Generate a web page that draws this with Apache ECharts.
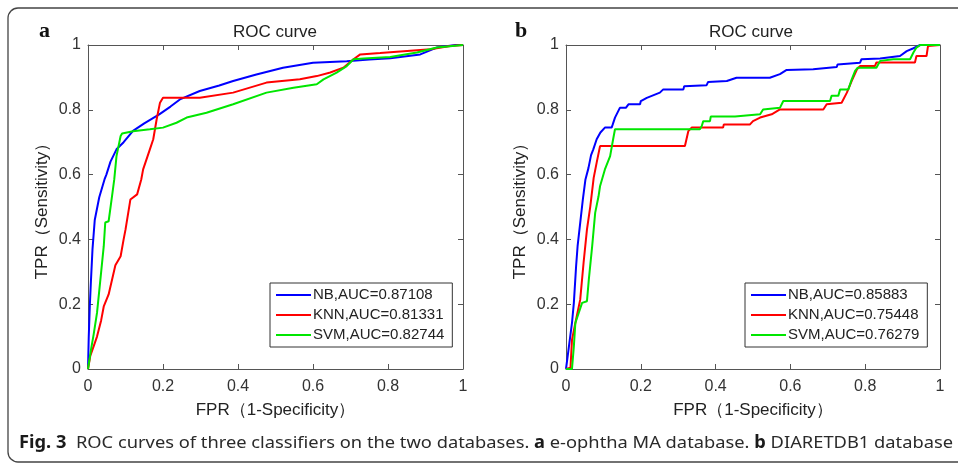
<!DOCTYPE html>
<html><head><meta charset="utf-8">
<script src="https://cdn.jsdelivr.net/npm/echarts@6/dist/echarts.min.js"></script>
<style>html,body{margin:0;padding:0;background:#fff;}#c{width:958px;height:463px;}</style>
</head><body><div id="c"></div>
<script>
// ---- data (FPR, TPR) ----
const tickLabels = ['0','0.2','0.4','0.6','0.8','1'];
const seriesNamesA = ['NB,AUC=0.87108','KNN,AUC=0.81331','SVM,AUC=0.82744'];
const seriesNamesB = ['NB,AUC=0.85883','KNN,AUC=0.75448','SVM,AUC=0.76279'];
const panelLabels = ['a','b'];
const panelTitle = 'ROC curve';
const xName = 'FPR（1-Specificity）';
const yName = 'TPR（Sensitivity）';

const nbA = [[0,0],[0.002,0.1],[0.005,0.2],[0.008,0.276],[0.012,0.37],[0.018,0.46],[0.03,0.53],[0.044,0.585],[0.049,0.6],[0.06,0.64],[0.076,0.678],[0.095,0.7],[0.12,0.735],[0.15,0.758],[0.19,0.786],[0.22,0.81],[0.245,0.832],[0.298,0.858],[0.35,0.875],[0.387,0.889],[0.449,0.909],[0.52,0.93],[0.6,0.945],[0.69,0.95],[0.75,0.955],[0.806,0.959],[0.886,0.971],[0.93,0.992],[0.98,1],[1,1]];
const knnA = [[0,0],[0.006,0.04],[0.015,0.07],[0.024,0.1],[0.035,0.15],[0.042,0.193],[0.055,0.23],[0.065,0.28],[0.073,0.32],[0.087,0.348],[0.095,0.4],[0.1,0.43],[0.113,0.523],[0.131,0.539],[0.142,0.585],[0.147,0.616],[0.165,0.678],[0.174,0.709],[0.183,0.77],[0.192,0.822],[0.2,0.837],[0.298,0.837],[0.387,0.853],[0.476,0.884],[0.565,0.894],[0.61,0.904],[0.646,0.915],[0.681,0.93],[0.708,0.956],[0.726,0.971],[0.779,0.975],[0.842,0.981],[0.913,0.987],[0.966,0.997],[1,1]];
const svmA = [[0,0],[0.008,0.06],[0.015,0.106],[0.024,0.173],[0.033,0.276],[0.042,0.379],[0.046,0.452],[0.055,0.456],[0.064,0.533],[0.07,0.585],[0.076,0.657],[0.087,0.719],[0.091,0.727],[0.12,0.734],[0.165,0.74],[0.2,0.745],[0.236,0.76],[0.263,0.776],[0.316,0.791],[0.387,0.817],[0.476,0.853],[0.548,0.868],[0.61,0.879],[0.628,0.894],[0.663,0.915],[0.69,0.935],[0.708,0.956],[0.735,0.958],[0.806,0.963],[0.877,0.977],[0.93,0.992],[1,1]];

const nbB = [[0,0],[0.003,0.004],[0.009,0.08],[0.016,0.142],[0.021,0.204],[0.027,0.317],[0.031,0.379],[0.038,0.451],[0.045,0.523],[0.052,0.585],[0.06,0.62],[0.067,0.66],[0.073,0.678],[0.082,0.709],[0.092,0.73],[0.104,0.745],[0.122,0.745],[0.125,0.755],[0.131,0.776],[0.144,0.806],[0.16,0.806],[0.167,0.817],[0.198,0.817],[0.2,0.827],[0.216,0.837],[0.251,0.853],[0.26,0.863],[0.314,0.863],[0.316,0.873],[0.376,0.876],[0.38,0.886],[0.43,0.889],[0.456,0.899],[0.545,0.899],[0.548,0.904],[0.572,0.91],[0.59,0.923],[0.661,0.925],[0.664,0.93],[0.724,0.932],[0.726,0.94],[0.786,0.945],[0.79,0.956],[0.84,0.958],[0.893,0.966],[0.911,0.981],[0.929,0.99],[0.947,1],[1,1]];
const knnB = [[0,0],[0.012,0.004],[0.016,0.09],[0.025,0.142],[0.038,0.214],[0.047,0.328],[0.056,0.43],[0.065,0.502],[0.074,0.59],[0.082,0.637],[0.091,0.688],[0.318,0.688],[0.327,0.734],[0.336,0.745],[0.42,0.745],[0.422,0.755],[0.492,0.755],[0.5,0.765],[0.519,0.776],[0.55,0.786],[0.572,0.801],[0.688,0.801],[0.697,0.817],[0.737,0.822],[0.751,0.853],[0.764,0.889],[0.778,0.925],[0.786,0.935],[0.826,0.935],[0.83,0.946],[0.933,0.946],[0.937,0.966],[0.964,0.966],[0.966,0.971],[0.968,0.997],[0.973,1],[1,1]];
const svmB = [[0,0],[0.016,0],[0.021,0.07],[0.025,0.142],[0.034,0.173],[0.043,0.204],[0.056,0.209],[0.061,0.276],[0.07,0.379],[0.078,0.482],[0.087,0.533],[0.091,0.564],[0.104,0.616],[0.118,0.657],[0.126,0.709],[0.131,0.74],[0.358,0.74],[0.363,0.75],[0.367,0.765],[0.385,0.765],[0.387,0.779],[0.452,0.779],[0.519,0.786],[0.527,0.801],[0.572,0.806],[0.581,0.827],[0.706,0.827],[0.71,0.843],[0.728,0.843],[0.733,0.863],[0.755,0.863],[0.764,0.894],[0.773,0.92],[0.78,0.93],[0.83,0.93],[0.84,0.951],[0.875,0.956],[0.92,0.956],[0.929,0.977],[0.937,0.992],[0.947,1],[1,1]];

// ---- styling / layout ----
const colors = ['#0000ff','#ff0000','#00e600'];
const FONT = 'Liberation Sans, Arial, sans-serif';
const axisColor = '#555';
const grids = [
  {left:88, top:45, width:375, height:324},
  {left:566, top:45, width:374, height:324}
];

function mkX(gi, pos, labels){
  return {type:'value', gridIndex:gi, position:pos, min:0, max:1, interval:0.2,
    axisLine:{show:true, onZero:false, lineStyle:{color:axisColor, width:1}},
    axisTick:{show:true, inside:true, length:5, lineStyle:{color:axisColor}},
    splitLine:{show:false},
    axisLabel:{show:labels, margin:10, color:'#333', fontSize:16, fontFamily:FONT,
      formatter:v=>tickLabels[Math.round(v/0.2)]},
    name: labels ? xName : '', nameLocation:'middle', nameGap:33,
    nameTextStyle:{color:'#222', fontSize:17, fontFamily:FONT}};
}
function mkY(gi, pos, labels){
  return {type:'value', gridIndex:gi, position:pos, min:0, max:1, interval:0.2,
    axisLine:{show:true, onZero:false, lineStyle:{color:axisColor, width:1}},
    axisTick:{show:true, inside:true, length:5, lineStyle:{color:axisColor}},
    splitLine:{show:false},
    axisLabel:{show:labels, margin:7, color:'#333', fontSize:16, fontFamily:FONT,
      formatter:v=>tickLabels[Math.round(v/0.2)]},
    name: labels ? yName : '', nameLocation:'middle', nameGap:37,
    nameTextStyle:{color:'#222', fontSize:17, fontFamily:FONT}};
}

function mkSeries(name, data, xi, yi, color){
  return {type:'line', name:name, data:data, xAxisIndex:xi, yAxisIndex:yi,
    showSymbol:false, symbol:'none', lineStyle:{color:color, width:2}, itemStyle:{color:color}};
}

function mkLegend(names, left, top){
  return {data:names, orient:'vertical', left:left, top:top, icon:'rect', itemWidth:35, itemHeight:2,
    itemGap:4, padding:[4,8,4,6], borderColor:'#333', borderWidth:1, backgroundColor:'#fff',
    textStyle:{color:'#222', fontSize:15, fontFamily:FONT, padding:[0,0,0,-3], lineHeight:16}};
}

// caption: condensed look obtained by horizontally scaling to the reference width
const capFont = 'Noto Sans, Open Sans, sans-serif';
const capSize = 17;
const capParts = [['Fig. 3',true],['  ROC curves of three classifiers on the two databases. ',false],['a',true],[' e-ophtha MA database. ',false],['b',true],[' DIARETDB1 database',false]];
const cv = document.createElement('canvas').getContext('2d');
let capW = 0;
capParts.forEach(p=>{cv.font=(p[1]?'bold ':'')+capSize+'px '+capFont; capW += cv.measureText(p[0]).width;});
const capScale = 934/capW;
const capText = capParts.map(p=>p[1]?'{b|'+p[0]+'}':'{r|'+p[0]+'}').join('');

const chart = echarts.init(document.getElementById('c'), null, {renderer:'canvas'});
chart.setOption({
  animation:false,
  backgroundColor:'#fff',
  grid: grids,
  xAxis: [mkX(0,'bottom',true), mkX(0,'top',false), mkX(1,'bottom',true), mkX(1,'top',false)],
  yAxis: [mkY(0,'left',true), mkY(0,'right',false), mkY(1,'left',true), mkY(1,'right',false)],
  legend: [mkLegend(seriesNamesA, 270, 283), mkLegend(seriesNamesB, 745, 283)],
  series: [
    mkSeries(seriesNamesA[0], nbA, 0, 0, colors[0]),
    mkSeries(seriesNamesA[1], knnA, 0, 0, colors[1]),
    mkSeries(seriesNamesA[2], svmA, 0, 0, colors[2]),
    mkSeries(seriesNamesB[0], nbB, 2, 2, colors[0]),
    mkSeries(seriesNamesB[1], knnB, 2, 2, colors[1]),
    mkSeries(seriesNamesB[2], svmB, 2, 2, colors[2])
  ],
  graphic: [
    {type:'rect', shape:{x:8, y:8, width:980, height:454, r:10}, style:{fill:'none', stroke:'#444', lineWidth:1.3}, silent:true, z:-1},
    {type:'text', x:275, y:32, style:{text:panelTitle, align:'center', verticalAlign:'middle', font:'17px '+FONT, fill:'#222'}},
    {type:'text', x:751, y:32, style:{text:panelTitle, align:'center', verticalAlign:'middle', font:'17px '+FONT, fill:'#222'}},
    {type:'text', x:39, y:31, style:{text:panelLabels[0], verticalAlign:'middle', font:'bold 22px Liberation Serif, serif', fill:'#111'}},
    {type:'text', x:515, y:31, style:{text:panelLabels[1], verticalAlign:'middle', font:'bold 22px Liberation Serif, serif', fill:'#111'}},
    {type:'text', x:19, y:443, scaleX:capScale, style:{text:capText, verticalAlign:'middle',
      rich:{b:{fontFamily:capFont, fontWeight:'bold', fontSize:capSize, fill:'#1a1a1a'}, r:{fontFamily:capFont, fontSize:capSize, fill:'#2a2a2a'}}}}
  ]
});
</script></body></html>
